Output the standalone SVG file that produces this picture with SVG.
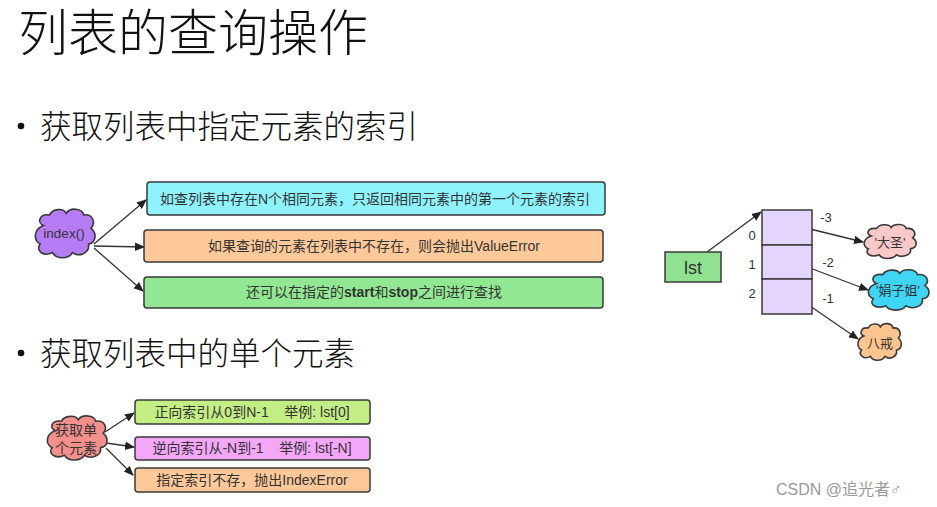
<svg xmlns="http://www.w3.org/2000/svg" width="937" height="507" viewBox="0 0 937 507">
<style>
.t{font-family:"Liberation Sans","Noto Sans CJK SC",sans-serif;fill:#333}
.h{font-family:"Liberation Sans","Noto Sans CJK SC",sans-serif;fill:#111;font-weight:300}
.box{stroke:#3a3a3a;stroke-width:1.5}
.cl{stroke:#3a3a3a;stroke-width:1.6}
.ln{stroke:#333;stroke-width:1.3;fill:none;marker-end:url(#ah)}
</style>
<defs>
<marker id="ah" viewBox="0 0 10 10" refX="9" refY="5" markerWidth="10" markerHeight="10" markerUnits="userSpaceOnUse" orient="auto">
<path d="M0,0.8 L10,5 L0,9.2 Z" fill="#222"/>
</marker>
<path id="cloud" vector-effect="non-scaling-stroke" d="M15,35 C5,30 8,12 25,15 C30,2 48,2 52,12 C58,0 78,2 80,15 C95,12 100,30 92,40 C102,50 100,68 88,70 C90,88 72,95 62,86 C55,100 35,98 30,86 C15,95 2,82 10,70 C-2,62 0,42 15,35 Z"/>
</defs>
<rect width="937" height="507" fill="#fff"/>

<text class="h" x="18" y="51" font-size="50">列表的查询操作</text>
<circle cx="21" cy="126" r="3.3" fill="#111"/>
<text class="h" x="40" y="138" font-size="31.5">获取列表中指定元素的索引</text>
<circle cx="21" cy="353" r="3.3" fill="#111"/>
<text class="h" x="40" y="365" font-size="31.5">获取列表中的单个元素</text>

<g id="connectors">
<line class="ln" x1="94" y1="244" x2="146" y2="200"/>
<line class="ln" x1="94" y1="246" x2="144" y2="247"/>
<line class="ln" x1="94" y1="248" x2="143" y2="291"/>
<line class="ln" x1="707" y1="252" x2="761" y2="212"/>
<line class="ln" x1="802" y1="227" x2="863" y2="242"/>
<line class="ln" x1="802" y1="265" x2="868" y2="290"/>
<line class="ln" x1="797" y1="297" x2="858" y2="339"/>
<line class="ln" x1="105" y1="432" x2="134" y2="413"/>
<line class="ln" x1="106" y1="443" x2="134" y2="447"/>
<line class="ln" x1="106" y1="448" x2="133" y2="475"/>
</g>

<g id="index-cloud">
<use href="#cloud" class="cl" fill="#b57cf5" transform="translate(34,207) scale(0.62,0.53)"/>
<text class="t" x="64" y="238" font-size="13.5" text-anchor="middle">index()</text>
</g>
<g id="box1">
<rect class="box" x="147" y="182" width="458" height="33" rx="3" fill="#8ff3fd"/>
<text class="t" x="375" y="204" font-size="14" text-anchor="middle">如查列表中存在N个相同元素，只返回相同元素中的第一个元素的索引</text>
</g>
<g id="box2">
<rect class="box" x="144" y="230" width="459" height="32" rx="3" fill="#fdc998"/>
<text class="t" x="374" y="251" font-size="14" text-anchor="middle">如果查询的元素在列表中不存在，则会抛出ValueError</text>
</g>
<g id="box3">
<rect class="box" x="144" y="277" width="459" height="31" rx="3" fill="#92e892"/>
<text class="t" x="374" y="297" font-size="14" text-anchor="middle">还可以在指定的<tspan font-weight="bold">start</tspan>和<tspan font-weight="bold">stop</tspan>之间进行查找</text>
</g>

<g id="lst">
<rect class="box" x="665" y="252" width="56" height="30" fill="#90e290"/>
<text class="t" x="693" y="274" font-size="18" text-anchor="middle">lst</text>
</g>
<g id="array">
<rect class="box" x="762" y="210" width="50" height="35" fill="#e3d5fc"/>
<rect class="box" x="762" y="245" width="50" height="34" fill="#e3d5fc"/>
<rect class="box" x="762" y="279" width="50" height="35" fill="#e3d5fc"/>
<text class="t" x="752" y="240" font-size="13" text-anchor="middle">0</text>
<text class="t" x="752" y="269" font-size="13" text-anchor="middle">1</text>
<text class="t" x="752" y="298" font-size="13" text-anchor="middle">2</text>
<text class="t" x="826" y="222" font-size="13" text-anchor="middle">-3</text>
<text class="t" x="828" y="267" font-size="13" text-anchor="middle">-2</text>
<text class="t" x="828" y="303" font-size="13" text-anchor="middle">-1</text>
</g>
<g id="dasheng">
<use href="#cloud" class="cl" fill="#fbc8c8" transform="translate(863,223) scale(0.54,0.37)"/>
<text class="t" x="890" y="247" font-size="13" text-anchor="middle">'大圣'</text>
</g>
<g id="juanzijie">
<use href="#cloud" class="cl" fill="#3fd5f4" transform="translate(867,268) scale(0.63,0.44)"/>
<text class="t" x="898" y="295" font-size="13" text-anchor="middle">'娟子姐'</text>
</g>
<g id="bajie">
<use href="#cloud" class="cl" fill="#fdc58d" transform="translate(857,322) scale(0.45,0.40)"/>
<text class="t" x="880" y="348" font-size="13" text-anchor="middle">八戒</text>
</g>

<g id="single-cloud">
<use href="#cloud" class="cl" fill="#f3908c" transform="translate(46,414) scale(0.62,0.48)"/>
<text class="t" x="76" y="435" font-size="14" text-anchor="middle">获取单</text>
<text class="t" x="76" y="453" font-size="14" text-anchor="middle">个元素</text>
</g>
<g id="boxA">
<rect class="box" x="135" y="400" width="235" height="24" rx="3" fill="#c3ee84"/>
<text class="t" x="252" y="417" font-size="14" text-anchor="middle" xml:space="preserve">正向索引从0到N-1    举例: lst[0]</text>
</g>
<g id="boxB">
<rect class="box" x="135" y="437" width="235" height="23" rx="3" fill="#f4a6f8"/>
<text class="t" x="252" y="453" font-size="14" text-anchor="middle" xml:space="preserve">逆向索引从-N到-1    举例: lst[-N]</text>
</g>
<g id="boxC">
<rect class="box" x="135" y="468" width="235" height="24" rx="3" fill="#fdc998"/>
<text class="t" x="252" y="485" font-size="14" text-anchor="middle">指定索引不存，抛出IndexError</text>
</g>

<text x="776" y="495" font-size="16" fill="#999" font-family="'Liberation Sans','Noto Sans CJK SC',sans-serif">CSDN @追光者♂</text>
</svg>
